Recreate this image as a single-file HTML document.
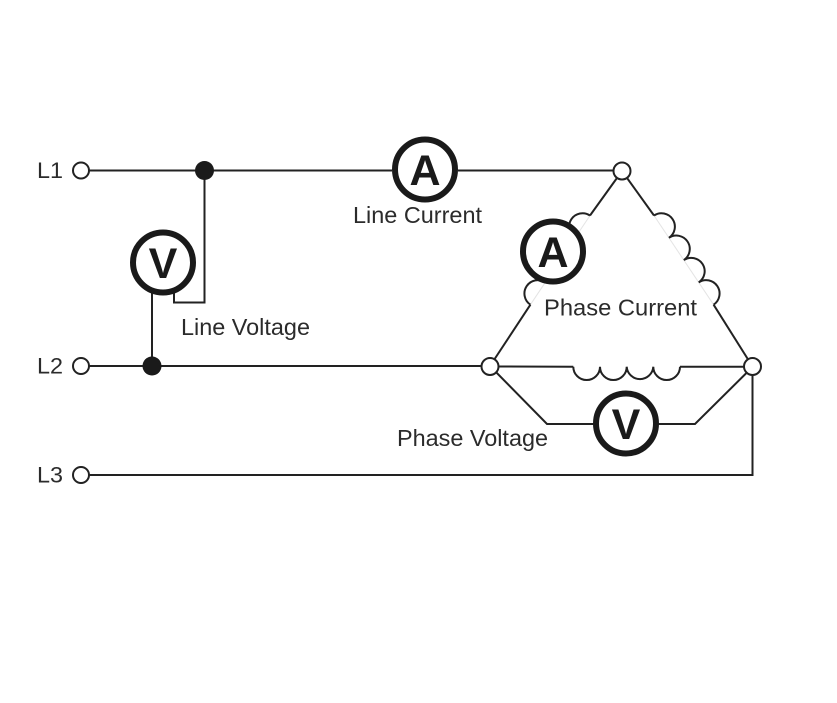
<!DOCTYPE html>
<html><head><meta charset="utf-8"><style>
html,body{margin:0;padding:0;background:#fff;}
svg{display:block;}
text{font-family:"Liberation Sans",Arial,sans-serif;}
</style></head><body>
<svg width="837" height="703" viewBox="0 0 837 703" xmlns="http://www.w3.org/2000/svg">
<g fill="none" stroke="#222" stroke-width="2">
  <!-- L1 line -->
  <line x1="89" y1="170.5" x2="392" y2="170.5"/>
  <line x1="458" y1="170.5" x2="614" y2="170.5"/>
  <!-- L2 line -->
  <line x1="89" y1="366" x2="482" y2="366"/>
  <!-- L3 line -->
  <polyline points="89,475 752.5,475 752.5,375"/>
  <!-- line voltage meter leads -->
  <line x1="152" y1="366" x2="152" y2="293"/>
  <polyline points="174,293 174,302.5 204.5,302.5 204.5,170.5"/>
  <!-- faint guide lines under coils -->
  <line x1="654" y1="215.5" x2="713.6" y2="304.7" stroke="#e4e4e4" stroke-width="1"/>
  <line x1="590" y1="215.5" x2="530.4" y2="304.7" stroke="#e4e4e4" stroke-width="1"/>
  <!-- triangle: top to right with coil -->
  <line x1="622" y1="171" x2="654" y2="215.5"/>
  <path d="M654,215.5 A13.4,13.4 0 0 1 668.9,237.8 A13.4,13.4 0 0 1 683.8,260.1 A13.4,13.4 0 0 1 698.7,282.4 A13.4,13.4 0 0 1 713.6,304.7"/>
  <line x1="713.6" y1="304.7" x2="752.5" y2="366.5"/>
  <!-- triangle: top to left with coil -->
  <line x1="622" y1="171" x2="590" y2="215.5"/>
  <path d="M590,215.5 A13.4,13.4 0 0 0 575.1,237.8 A13.4,13.4 0 0 0 560.2,260.1 A13.4,13.4 0 0 0 545.3,282.4 A13.4,13.4 0 0 0 530.4,304.7"/>
  <line x1="530.4" y1="304.7" x2="490" y2="366"/>
  <!-- triangle bottom with coil -->
  <line x1="490" y1="366.5" x2="573.3" y2="366.7"/>
  <path d="M573.3,366.7 A13.33,13.33 0 0 0 600,366.7 A13.33,13.33 0 0 0 626.7,366.7 A13.33,13.33 0 0 0 653.3,366.7 A13.33,13.33 0 0 0 680,366.7"/>
  <line x1="680" y1="366.7" x2="752.5" y2="366.7"/>
  <!-- phase voltage meter leads -->
  <polyline points="490,366 547,424 596,424"/>
  <polyline points="656,424 695,424 752.5,367"/>
</g>
<!-- junction dots -->
<circle cx="204.5" cy="170.5" r="9.5" fill="#1a1a1a"/>
<circle cx="152" cy="366" r="9.5" fill="#1a1a1a"/>
<!-- terminals -->
<g fill="#fff" stroke="#222" stroke-width="2">
  <circle cx="81" cy="170.5" r="8"/>
  <circle cx="81" cy="366" r="8"/>
  <circle cx="81" cy="475" r="8"/>
  <circle cx="622" cy="171" r="8.5"/>
  <circle cx="490" cy="366.5" r="8.5"/>
  <circle cx="752.5" cy="366.5" r="8.5"/>
</g>
<!-- meters -->
<g fill="#fff" stroke="#1a1a1a" stroke-width="6">
  <circle cx="425" cy="169.5" r="30"/>
  <circle cx="163" cy="262.5" r="30"/>
  <circle cx="553" cy="251.5" r="30"/>
  <circle cx="626" cy="423.5" r="30"/>
</g>
<g font-weight="bold" font-size="43" fill="#1a1a1a" text-anchor="middle">
  <text x="425" y="185">A</text>
  <text x="163" y="278">V</text>
  <text x="553" y="267">A</text>
  <text x="626" y="439">V</text>
</g>
<!-- labels -->
<g fill="#2b2b2b" font-size="22">
  <text x="37" y="178" textLength="26" lengthAdjust="spacingAndGlyphs">L1</text>
  <text x="37" y="373.5" textLength="26" lengthAdjust="spacingAndGlyphs">L2</text>
  <text x="37" y="482.5" textLength="26" lengthAdjust="spacingAndGlyphs">L3</text>
</g>
<g fill="#2b2b2b" font-size="23">
  <text x="353" y="223" textLength="129" lengthAdjust="spacingAndGlyphs">Line Current</text>
  <text x="181" y="335" textLength="129" lengthAdjust="spacingAndGlyphs">Line Voltage</text>
  <text x="544" y="315.5" textLength="153" lengthAdjust="spacingAndGlyphs">Phase Current</text>
  <text x="397" y="446" textLength="151" lengthAdjust="spacingAndGlyphs">Phase Voltage</text>
</g>
</svg>
</body></html>
